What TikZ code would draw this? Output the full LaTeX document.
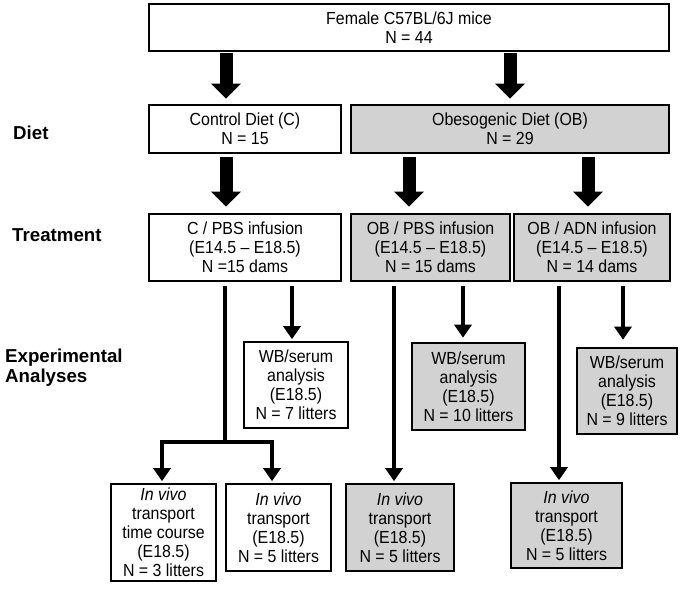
\documentclass[tikz,border=0pt]{standalone}
\usepackage{fontspec}
\setmainfont{Liberation Sans}
\newfontfamily\bodyfam{Liberation Sans}[FakeStretch=0.91,Ligatures=TeX]
\newfontfamily\labfam{Liberation Sans}
\usetikzlibrary{arrows.meta}
\definecolor{boxgray}{RGB}{210,210,210}
\newcommand\bodyf{\bodyfam\fontsize{17.5pt}{19pt}\selectfont}
\newcommand\labf{\labfam\bfseries\fontsize{18.7pt}{20pt}\selectfont}
\tikzset{
  box/.style={draw, line width=2.6pt, align=center, inner sep=0pt, font=\bodyf},
  greybox/.style={box, fill=boxgray},
  bigarrow/.style={line width=13pt, -{Triangle[length=15pt,width=29pt]}},
  thinarrow/.style={line width=4.5pt, line join=miter, -{Triangle[length=13pt,width=17pt]}},
  thinline/.style={line width=4.5pt},
  rowlabel/.style={font=\labf, anchor=west, align=left, inner sep=0pt}
}
\begin{document}
\begin{tikzpicture}[x=1pt,y=-1pt]
\fill[white] (0,0) rectangle (680,594);
\useasboundingbox (0,0) rectangle (680,594);

% boxes
\node[box, minimum width=520pt, minimum height=47pt] (top) at (409,27.5) {Female C57BL/6J mice\\N = 44};
\node[box, minimum width=192pt, minimum height=48pt] (ctrl) at (245,129) {Control Diet (C)\\N = 15};
\node[greybox, minimum width=318pt, minimum height=48pt] (ob) at (510,129) {Obesogenic Diet (OB)\\N = 29};

\node[box, minimum width=192pt, minimum height=67pt] (cpbs) at (245,247.5) {C / PBS infusion\\(E14.5 – E18.5)\\N =15 dams};
\node[greybox, minimum width=159pt, minimum height=67pt] (obpbs) at (430.5,247.5) {OB / PBS infusion\\(E14.5 – E18.5)\\N = 15 dams};
\node[greybox, minimum width=156pt, minimum height=67pt] (obadn) at (592,247.5) {OB / ADN infusion\\(E14.5 – E18.5)\\N = 14 dams};

\node[box, minimum width=104pt, minimum height=86pt] (wbc) at (296,385) {WB/serum\\analysis\\(E18.5)\\N = 7 litters};
\node[greybox, minimum width=113pt, minimum height=87pt] (wbob) at (468.5,386.5) {WB/serum\\analysis\\(E18.5)\\N = 10 litters};
\node[greybox, minimum width=100pt, minimum height=86pt] (wbadn) at (627,391) {WB/serum\\analysis\\(E18.5)\\N = 9 litters};

\node[box, minimum width=105pt, minimum height=97pt] (iv1) at (163.5,532.5) {\textit{In vivo}\\transport\\time course\\(E18.5)\\N = 3 litters};
\node[box, minimum width=105pt, minimum height=87pt] (iv2) at (278.5,527.5) {\textit{In vivo}\\transport\\(E18.5)\\N = 5 litters};
\node[greybox, minimum width=108pt, minimum height=87pt] (iv3) at (400,527.5) {\textit{In vivo}\\transport\\(E18.5)\\N = 5 litters};
\node[greybox, minimum width=111pt, minimum height=85pt] (iv4) at (566.5,525.5) {\textit{In vivo}\\transport\\(E18.5)\\N = 5 litters};

% row labels
\node[rowlabel] (ldiet) at (13,133) {Diet};
\node[rowlabel] (ltreat) at (12,235) {Treatment};
\node[rowlabel] (lexp) at (5,368) {Experimental\\Analyses};

% named x positions
\coordinate (xa) at (226,0);
\coordinate (xb) at (510,0);
\coordinate (xc) at (409,0);
\coordinate (xd) at (588,0);
\coordinate (xe) at (292,0);
\coordinate (xf) at (463,0);
\coordinate (xg) at (623,0);
\coordinate (xh) at (394,0);
\coordinate (xi) at (559,0);
\coordinate (xj) at (162,0);
\coordinate (xk) at (272,0);
\coordinate (j) at (225,442);

% big arrows
\draw[bigarrow, shorten <=1pt, shorten >=5pt] (top.south -| xa) -- (ctrl.north -| xa);
\draw[bigarrow, shorten <=1pt, shorten >=5pt] (top.south -| xb) -- (ob.north -| xb);
\draw[bigarrow, shorten <=3pt, shorten >=6pt] (ctrl.south -| xa) -- (cpbs.north -| xa);
\draw[bigarrow, shorten <=3pt, shorten >=6pt] (ob.south -| xc) -- (obpbs.north -| xc);
\draw[bigarrow, shorten <=3pt, shorten >=6pt] (ob.south -| xd) -- (obadn.north -| xd);

% thin arrows to WB boxes
\draw[thinarrow, shorten <=4pt, shorten >=1.5pt] (cpbs.south -| xe) -- (wbc.north -| xe);
\draw[thinarrow, shorten <=4pt, shorten >=4pt] (obpbs.south -| xf) -- (wbob.north -| xf);
\draw[thinarrow, shorten <=4pt, shorten >=7pt] (obadn.south -| xg) -- (wbadn.north -| xg);

% long lines to in vivo boxes
\draw[thinline, shorten <=4pt] (cpbs.south -| j) -- (j);
\draw[thinarrow, shorten >=1.5pt] ([xshift=2.25pt]j) -| (iv1.north -| xj);
\draw[thinarrow, shorten >=1.5pt] ([xshift=-2.25pt]j) -| (iv2.north -| xk);
\draw[thinarrow, shorten <=4pt, shorten >=1.5pt] (obpbs.south -| xh) -- (iv3.north -| xh);
\draw[thinarrow, shorten <=4pt, shorten >=1.5pt] (obadn.south -| xi) -- (iv4.north -| xi);
\end{tikzpicture}
\end{document}
